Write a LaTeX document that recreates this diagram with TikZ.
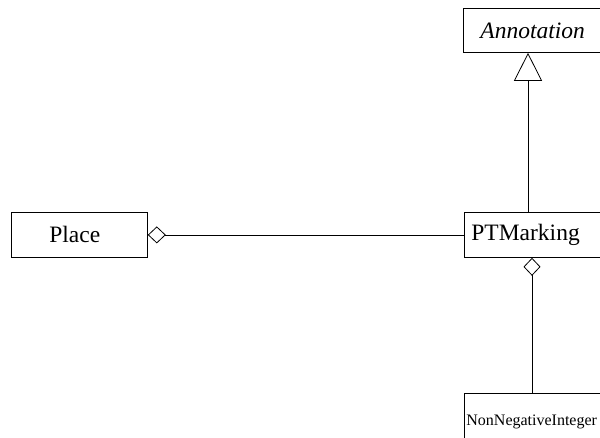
\documentclass[tikz,border=0pt]{standalone}
\usepackage{fontspec}
\setmainfont{Liberation Serif}
\usepackage{tikz}
\usetikzlibrary{arrows.meta}
\tikzset{
	class box/.style={draw, line width=0.8pt, anchor=north west, font=\fontsize{23.5}{28}\selectfont},
	aggregation/.style={draw, line width=0.8pt, {Diamond[open, length=18pt, width=17pt]}-},
	generalization/.style={draw, line width=0.8pt, -{Triangle[open, length=28pt, width=28pt]}},
}

\begin{document}
\begin{tikzpicture}[x=1pt,y=-1pt]
	\useasboundingbox (0,0) rectangle (600,437);
	\clip (0,0) rectangle (600,437);
	\node[class box, minimum height=44pt, text width=126pt, inner xsep=17pt, align=left] (annot) at (463,8) {\itshape Annotation};
	\node[class box, minimum height=45pt, text width=60pt, inner xsep=38pt, align=left] (place) at (11,212) {Place};
	\node[class box, minimum height=45pt, text width=148pt, inner xsep=7pt, align=left] (ptm) at (464,212) {PTMarking};
	\node[class box, minimum height=58pt, text width=170pt, inner xsep=2pt, align=left, font=\fontsize{16}{19}\selectfont] (nni) at (464,393) {NonNegativeInteger};
	% associations
	\draw[aggregation] (place.east) -- (ptm.west);
	\draw[aggregation] ([xshift=68pt]ptm.south west) -- ([xshift=68pt]nni.north west);
	\draw[generalization] ([xshift=64pt]ptm.north west) -- ([xshift=65pt]annot.south west);
\end{tikzpicture}
\end{document}
